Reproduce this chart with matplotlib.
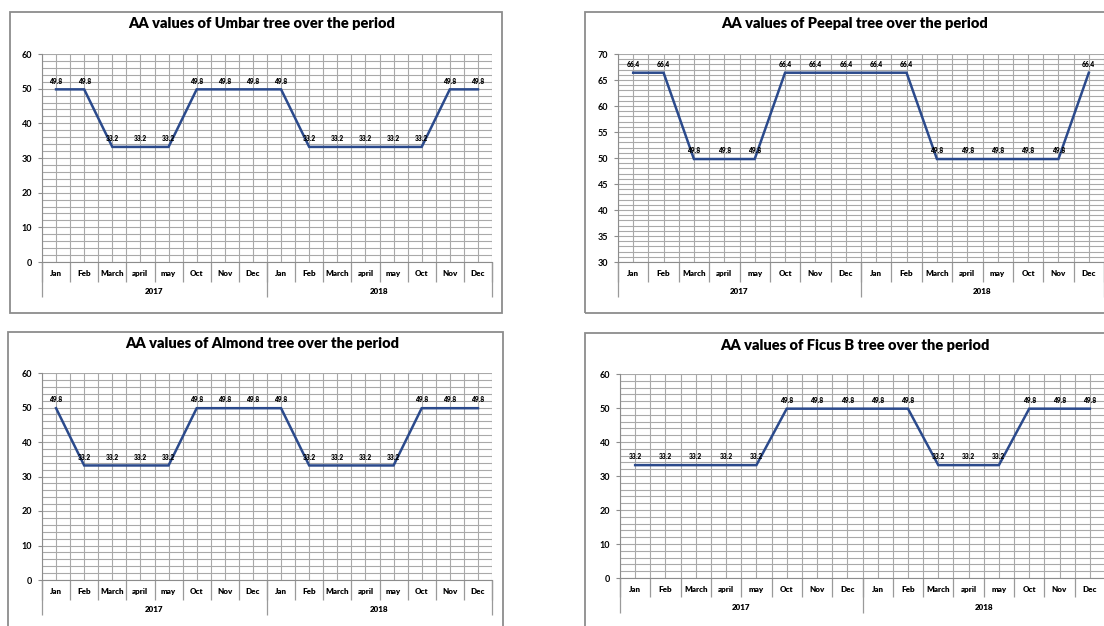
import numpy as np
import matplotlib
matplotlib.use('Agg')
import matplotlib.pyplot as plt
from matplotlib.patches import Rectangle
from matplotlib.ticker import MultipleLocator

plt.rcParams['font.family'] = ['Lato', 'DejaVu Sans']
plt.rcParams['font.weight'] = 'bold'

months = ['Jan', 'Feb', 'March', 'april', 'may', 'Oct', 'Nov', 'Dec'] * 2
years = ['2017', '2018']

umbar = [49.8, 49.8, 33.2, 33.2, 33.2, 49.8, 49.8, 49.8, 49.8, 33.2, 33.2, 33.2, 33.2, 33.2, 49.8, 49.8]
peepal = [66.4, 66.4, 49.8, 49.8, 49.8, 66.4, 66.4, 66.4, 66.4, 66.4, 49.8, 49.8, 49.8, 49.8, 49.8, 66.4]
almond = [49.8, 33.2, 33.2, 33.2, 33.2, 49.8, 49.8, 49.8, 49.8, 33.2, 33.2, 33.2, 33.2, 49.8, 49.8, 49.8]
ficus = [33.2, 33.2, 33.2, 33.2, 33.2, 49.8, 49.8, 49.8, 49.8, 49.8, 33.2, 33.2, 33.2, 49.8, 49.8, 49.8]

W, H = 1104, 626
fig = plt.figure(figsize=(W / 100, H / 100), dpi=100)
fig.patch.set_facecolor('white')

LINE = '#2b4a8c'
GRID = '#a9a9a9'


def px_box(left, top, right, bottom):
    return [left / W, 1 - bottom / H, (right - left) / W, (bottom - top) / H]


def frame(left, top, right, bottom):
    fig.patches.append(Rectangle((left / W, 1 - bottom / H), (right - left) / W, (bottom - top) / H,
                                 transform=fig.transFigure, fill=False, ec='#8c8c8c', lw=1.3))


def panel(box, vals, title, title_xy, ylim, major, minor):
    ax = fig.add_axes(px_box(*box))
    x = np.arange(len(vals))
    ax.set_xlim(-0.5, len(vals) - 0.5)
    ax.set_ylim(*ylim)
    ax.yaxis.set_major_locator(MultipleLocator(major))
    ax.yaxis.set_minor_locator(MultipleLocator(minor))
    ax.set_xticks(np.arange(-0.5, len(vals), 0.5), minor=True)
    ax.set_xticks([])
    ax.grid(True, which='both', axis='both', color=GRID, lw=0.8)
    ax.set_axisbelow(True)
    for s in ['top', 'right']:
        ax.spines[s].set_visible(False)
    ax.spines['left'].set_color('#8c8c8c')
    ax.spines['bottom'].set_color('#8c8c8c')
    ax.tick_params(axis='y', which='major', length=3, color='#8c8c8c', labelsize=6.5, pad=4)
    ax.tick_params(axis='y', which='minor', length=0)
    ax.tick_params(axis='x', which='both', length=0, labelbottom=False)

    ax.plot(x, vals, color=LINE, lw=1.8, solid_joinstyle='miter', zorder=3)
    for xi, v in zip(x, vals):
        ax.annotate(f'{v:.1f}', (xi, v), xytext=(0, 6), textcoords='offset points',
                    ha='center', va='center', fontsize=4.8, fontweight='heavy', zorder=4)

    # two-level category axis: months then years
    tr = ax.get_xaxis_transform()
    for xi, m in zip(x, months):
        ax.annotate(m, (xi, 0), xycoords=tr, xytext=(0, -8.5), textcoords='offset points',
                    ha='center', va='center', fontsize=5.8, fontweight='heavy')
    ax.vlines(np.arange(-0.5, len(vals), 1), -0.095, 0, transform=tr, color='#9a9a9a',
              lw=0.9, clip_on=False)
    ax.vlines([-0.5, 7.5, 15.5], -0.17, 0, transform=tr, color='#9a9a9a', lw=0.9, clip_on=False)
    for i, yr in enumerate(years):
        ax.annotate(yr, (3.5 + 8 * i, 0), xycoords=tr, xytext=(0, -21), textcoords='offset points',
                    ha='center', va='center', fontsize=5.8, fontweight='heavy')

    fig.text(title_xy[0] / W, 1 - title_xy[1] / H, title, ha='center', va='center',
             fontsize=10.5, fontweight='heavy')
    return ax


frame(10, 12, 502, 313)
frame(585, 12, 1110, 313)
frame(8, 332, 503, 640)
frame(585, 333, 1110, 640)

panel((42, 54, 492, 262), umbar, 'AA values of Umbar tree over the period', (262, 24), (0, 60), 10, 2)
panel((618, 54, 1104, 262), peepal, 'AA values of Peepal tree over the period', (855, 24), (30, 70), 5, 1)
panel((42, 373, 492, 580), almond, 'AA values of Almond tree over the period', (262, 344), (0, 60), 10, 2)
panel((620, 374, 1105, 578), ficus, 'AA values of Ficus B tree over the period', (855, 345), (0, 60), 10, 2)

fig.savefig('out.png', dpi=100, facecolor='white')
